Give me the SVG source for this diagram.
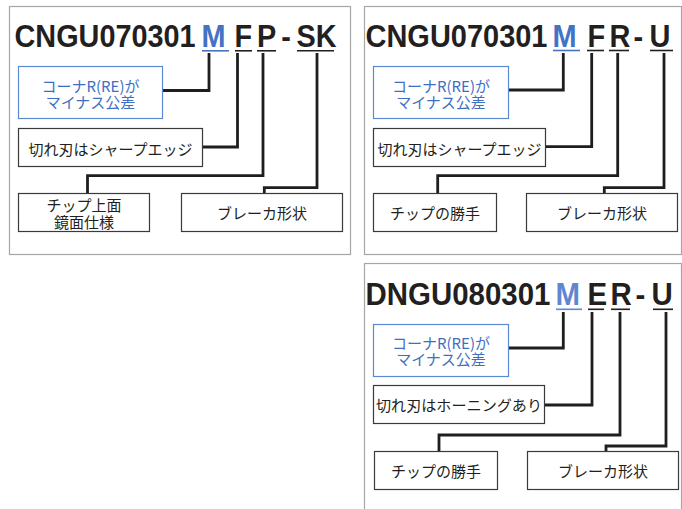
<svg xmlns="http://www.w3.org/2000/svg" width="682" height="509" viewBox="0 0 682 509">
<style>
.panel{fill:none;stroke:#a6a6a6;stroke-width:1.2}
.box{fill:#fff;stroke:#3a3a3a;stroke-width:1.2}
.bbox{fill:#fff;stroke:#5b8ad2;stroke-width:1.2}
.ttl{font-family:"Liberation Sans",Arial,sans-serif;font-weight:bold;font-size:31.5px;fill:#231f20}
.tm{fill:#4472c4}
.tm3{fill:#5f87cf}
.lbl{font-family:"Noto Sans CJK JP","Noto Sans",sans-serif;font-size:15px;fill:#231f20;text-anchor:middle}
.blbl{font-family:"Noto Sans CJK JP","Noto Sans",sans-serif;font-size:15px;fill:#3f6fc2;text-anchor:middle}
.ul{stroke:#231f20;stroke-width:1.6}
.ulb{stroke:#4472c4;stroke-width:1.6}
.ulb3{stroke:#5f87cf;stroke-width:1.6}
.con{fill:none;stroke:#1e1e1e;stroke-width:2.8;stroke-linejoin:miter}
</style>

<rect class="panel" x="9.5" y="6.5" width="341" height="248"/>
<rect class="panel" x="364.5" y="6.5" width="317" height="248"/>
<rect class="panel" x="364.5" y="263.5" width="317" height="260"/>

<g id="title1">
<text class="ttl" transform="translate(16,47) scale(0.915,1)"><tspan x="-1.6">CNGU070301</tspan><tspan class="tm" x="202.8">M</tspan><tspan x="238.8">F</tspan><tspan x="263.5">P</tspan><tspan x="290">-</tspan><tspan x="306.6">SK</tspan></text>
<line class="ulb" x1="202" y1="50.8" x2="229" y2="50.8"/>
<line class="ul" x1="235" y1="50.8" x2="252" y2="50.8"/>
<line class="ul" x1="257" y1="50.8" x2="276" y2="50.8"/>
<line class="ul" x1="297" y1="50.8" x2="334" y2="50.8"/>
</g>

<g id="title2">
<text class="ttl" transform="translate(367,46.5) scale(0.92,1)"><tspan x="-1.6">CNGU070301</tspan><tspan class="tm" x="201.7">M</tspan><tspan x="239.7">F</tspan><tspan x="263.6">R</tspan><tspan x="289.6">-</tspan><tspan x="307.1">U</tspan></text>
<line class="ulb" x1="553" y1="50.5" x2="580" y2="50.5"/>
<line class="ul" x1="587" y1="50.5" x2="604" y2="50.5"/>
<line class="ul" x1="609" y1="50.5" x2="629" y2="50.5"/>
<line class="ul" x1="650" y1="50.5" x2="673" y2="50.5"/>
</g>

<g id="title3">
<text class="ttl" transform="translate(367,305) scale(0.935,1)"><tspan x="-1.6">DNGU080301</tspan><tspan class="tm3" x="201.6">M</tspan><tspan x="235.8">E</tspan><tspan x="260.4">R</tspan><tspan x="287.1">-</tspan><tspan x="304.3">U</tspan></text>
<line class="ulb3" x1="556" y1="309.3" x2="582" y2="309.3"/>
<line class="ul" x1="588" y1="309.3" x2="604" y2="309.3"/>
<line class="ul" x1="611" y1="309.3" x2="630" y2="309.3"/>
<line class="ul" x1="653" y1="309.3" x2="673" y2="309.3"/>
</g>

<g id="connectors">
<path class="con" d="M209,53 V90.5 H163"/>
<path class="con" d="M237.5,53 V147 H202.5"/>
<path class="con" d="M263,53 V175.7 H87.5 V193"/>
<path class="con" d="M317,53 V187.7 H264.3 V193"/>

<path class="con" d="M563.3,53 V90 H508.5"/>
<path class="con" d="M591.7,53 V146.7 H545.5"/>
<path class="con" d="M617.7,53 V175.7 H437.7 V193"/>
<path class="con" d="M664,53 V187.7 H604.3 V193"/>

<path class="con" d="M563.3,312 V348 H508.5"/>
<path class="con" d="M592,312 V405 H544.5"/>
<path class="con" d="M620,312 V435 H439 V451"/>
<path class="con" d="M666,312 V446 H606 V451"/>
</g>

<g id="p1-corner">
<rect class="bbox" x="18.5" y="66.5" width="144" height="52"/>
<text class="blbl"><tspan x="90.5" y="91.5">コーナR(RE)が</tspan><tspan x="90.5" y="107.5">マイナス公差</tspan></text>
</g>
<g id="p1-edge">
<rect class="box" x="18.5" y="128.5" width="184" height="38"/>
<text class="lbl" x="110.5" y="155">切れ刃はシャープエッジ</text>
</g>
<g id="p1-top">
<rect class="box" x="18.5" y="193.5" width="131" height="38"/>
<text class="lbl"><tspan x="84" y="211">チップ上面</tspan><tspan x="84" y="227.5">鏡面仕様</tspan></text>
</g>
<g id="p1-breaker">
<rect class="box" x="181.5" y="193.5" width="161" height="38"/>
<text class="lbl" x="262" y="219">ブレーカ形状</text>
</g>

<g id="p2-corner">
<rect class="bbox" x="373.5" y="66.5" width="135" height="52"/>
<text class="blbl"><tspan x="441" y="91.5">コーナR(RE)が</tspan><tspan x="441" y="107.5">マイナス公差</tspan></text>
</g>
<g id="p2-edge">
<rect class="box" x="373.5" y="128.5" width="172" height="38"/>
<text class="lbl" x="459.5" y="155" textLength="164" lengthAdjust="spacingAndGlyphs">切れ刃はシャープエッジ</text>
</g>
<g id="p2-hand">
<rect class="box" x="373.5" y="193.5" width="123" height="38"/>
<text class="lbl" x="435" y="219">チップの勝手</text>
</g>
<g id="p2-breaker">
<rect class="box" x="526.5" y="193.5" width="151" height="38"/>
<text class="lbl" x="602" y="219">ブレーカ形状</text>
</g>

<g id="p3-corner">
<rect class="bbox" x="373.5" y="324.5" width="135" height="52"/>
<text class="blbl"><tspan x="441" y="349">コーナR(RE)が</tspan><tspan x="441" y="365">マイナス公差</tspan></text>
</g>
<g id="p3-edge">
<rect class="box" x="373.5" y="385.5" width="171" height="38"/>
<text class="lbl" x="459" y="411" textLength="166" lengthAdjust="spacingAndGlyphs">切れ刃はホーニングあり</text>
</g>
<g id="p3-hand">
<rect class="box" x="374.5" y="451.5" width="123" height="38"/>
<text class="lbl" x="436" y="477">チップの勝手</text>
</g>
<g id="p3-breaker">
<rect class="box" x="527.5" y="451.5" width="151" height="38"/>
<text class="lbl" x="603" y="477">ブレーカ形状</text>
</g>
</svg>
